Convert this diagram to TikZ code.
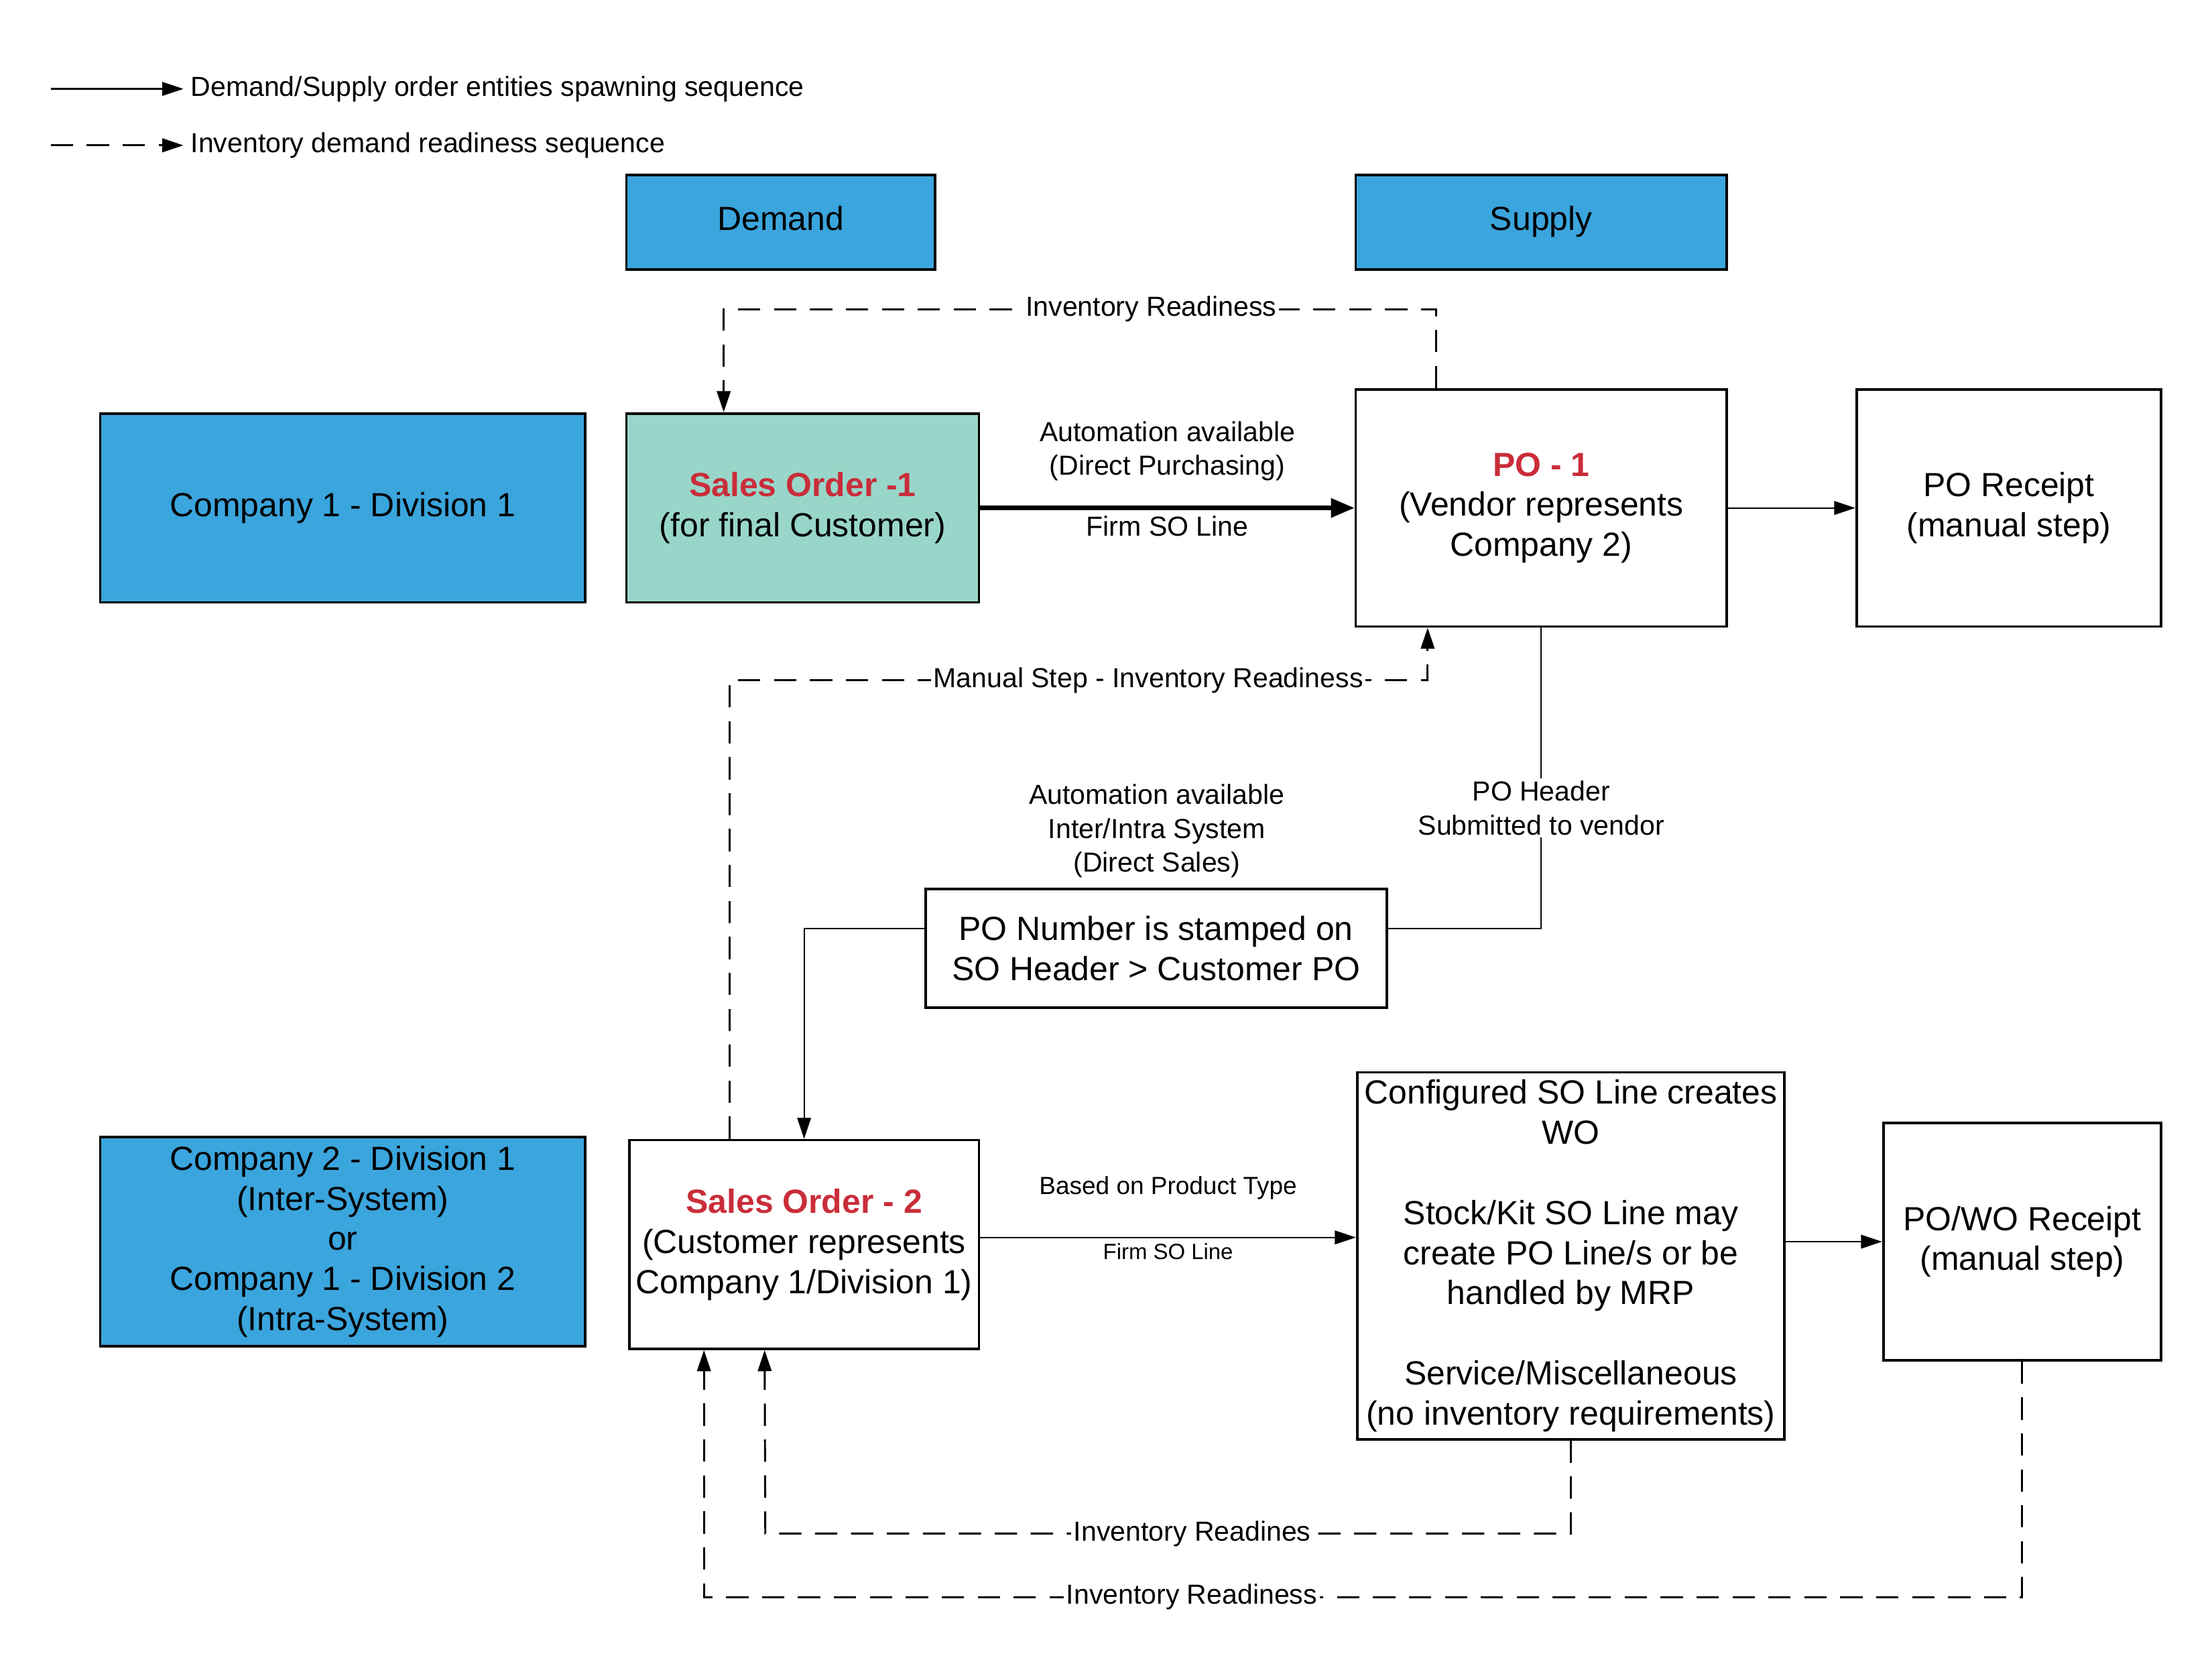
\documentclass[tikz,border=0pt]{standalone}
\usepackage{fontspec}
\setmainfont{Liberation Sans}
\usepackage{xcolor}
\usepackage{tikz}
\usetikzlibrary{calc, arrows.meta, positioning}
\definecolor{lucidblue}{RGB}{59,165,221}
\definecolor{soteal}{RGB}{153,214,202}
\definecolor{ordred}{RGB}{201,45,57}
\newcommand{\ttl}[1]{{\color{ordred}\bfseries #1}}
\newcommand{\boxfont}{\fontsize{13.5}{16.2}\selectfont}
\newcommand{\lblfont}{\fontsize{11.1}{13.6}\selectfont}

\begin{document}
\begin{tikzpicture}[
        x=0.02cm, y=-0.02cm,
        box/.style = {draw, rectangle, line width=1pt, align=center, font=\boxfont, inner sep=1pt, fill=white},
        blubox/.style = {box, fill=lucidblue},
        lbl/.style = {align=center, font=\lblfont, inner sep=1pt},
        arrow/.style = {draw=black, -{Triangle[length=8.5pt, width=5.5pt]}, line width=0.6pt},
        thickarrow/.style = {draw=black, -{Triangle[length=9.5pt, width=7.5pt]}, line width=1.8pt},
        line/.style = {draw=black, line width=0.6pt},
        dasharrow/.style = {arrow, line width=0.8pt, dash pattern=on 9pt off 5.5pt}
    ]
        \useasboundingbox (0,0) rectangle (1568,1179);

        \coordinate (lg1) at (36,63);
        \coordinate (lg2) at (36,103);
        \node (lgsolid) [lbl, anchor=west, inner sep=2.8pt] at (130,63) {Demand/Supply order entities spawning sequence};
        \node (lgdash) [lbl, anchor=west, inner sep=2.8pt] at (130,103) {Inventory demand readiness sequence};

        \node (demand) [blubox, minimum width=4.38cm, minimum height=1.34cm] at (553.5,157.5) {Demand\strut};
        \node (supply) [blubox, minimum width=5.26cm, minimum height=1.34cm] at (1092.5,157.5) {Supply\strut};
        \node (cmp1) [blubox, minimum width=6.88cm, minimum height=2.68cm] at (243,360) {Company 1 - Division 1};
        \node (so1) [box, fill=soteal, minimum width=5.0cm, minimum height=2.68cm] at (569,360) {\ttl{Sales Order -1}\\(for final Customer)};
        \node (po1) [box, minimum width=5.26cm, minimum height=3.36cm] at (1092.5,360) {\ttl{PO - 1}\\(Vendor represents\\Company 2)};
        \node (porcpt) [box, minimum width=4.32cm, minimum height=3.36cm] at (1424,360) {PO Receipt\\(manual step)};
        \node (stamp) [box, minimum width=6.54cm, minimum height=1.68cm] at (819.5,672) {PO Number is stamped on\\SO Header > Customer PO};
        \node (autolbl) [lbl] at (820,589) {Automation available\\Inter/Intra System\\(Direct Sales)};
        \node (cmp2) [blubox, minimum width=6.88cm, minimum height=2.96cm] at (243,880) {Company 2 - Division 1\\(Inter-System)\\or\\Company 1 - Division 2\\(Intra-System)};
        \node (so2) [box, minimum width=4.96cm, minimum height=2.96cm] at (570,882) {\ttl{Sales Order - 2}\\(Customer represents\\Company 1/Division 1)};
        \node (config) [box, minimum width=6.06cm, minimum height=5.2cm] at (1113.5,890) {Configured SO Line creates\\WO\\[16.2pt]Stock/Kit SO Line may\\create PO Line/s or be\\handled by MRP\\[16.2pt]Service/Miscellaneous\\(no inventory requirements)};
        \node (powo) [box, minimum width=3.94cm, minimum height=3.36cm] at (1433.5,880) {PO/WO Receipt\\(manual step)};

        \draw [arrow] (lg1) -- (lgsolid.west);
        \draw [dasharrow] (lg2) -- (lgdash.west);

        \draw [thickarrow] (so1) -- node[lbl, above=9pt] {Automation available\\(Direct Purchasing)} node[lbl, below=1.5pt] {Firm SO Line} (po1);
        \draw [arrow] (po1) -- (porcpt);
        \draw [dasharrow] ($(po1.north)+(-74.5,0)$) -- ++(0,-56) -- node[pos=0.4, lbl, fill=white] {Inventory Readiness} ++(-505,0) -- ($(so1.north)+(-56,0)$);
        \draw [dasharrow] ($(so2.north)+(-53,0)$) -- ++(0,-325) -- node[pos=0.6, lbl, fill=white] {Manual Step - Inventory Readiness} ++(495,0) -- ($(po1.south)+(-80.5,0)$);
        \draw [line] (po1.south) |- node[pos=0.3, lbl, fill=white] {PO Header\\Submitted to vendor} ($(stamp.east)+(0,-14)$);
        \draw [arrow] ($(stamp.west)+(0,-14)$) -| (so2.north);
        \draw [arrow] ($(so2.east)+(0,-5)$) -- node[lbl, font=\fontsize{10}{12}\selectfont, above=14pt] {Based on Product Type} node[lbl, font=\fontsize{8.9}{11}\selectfont, below=1pt] {Firm SO Line} ($(config.west)+(0,-13)$);
        \draw [arrow] ($(config.east)+(0,-10)$) -- (powo.west);
        \draw [dasharrow] (config.south) -- ++(0,66) -- node[pos=0.47, lbl, fill=white] {Inventory Readines} ++(-571,0) -- ($(so2.south)+(-28,0)$);
        \draw [dasharrow] (powo.south) -- ++(0,167) -- node[pos=0.63, lbl, fill=white] {Inventory Readiness} ++(-934.5,0) -- ($(so2.south)+(-71,0)$);

    \end{tikzpicture}
\end{document}
